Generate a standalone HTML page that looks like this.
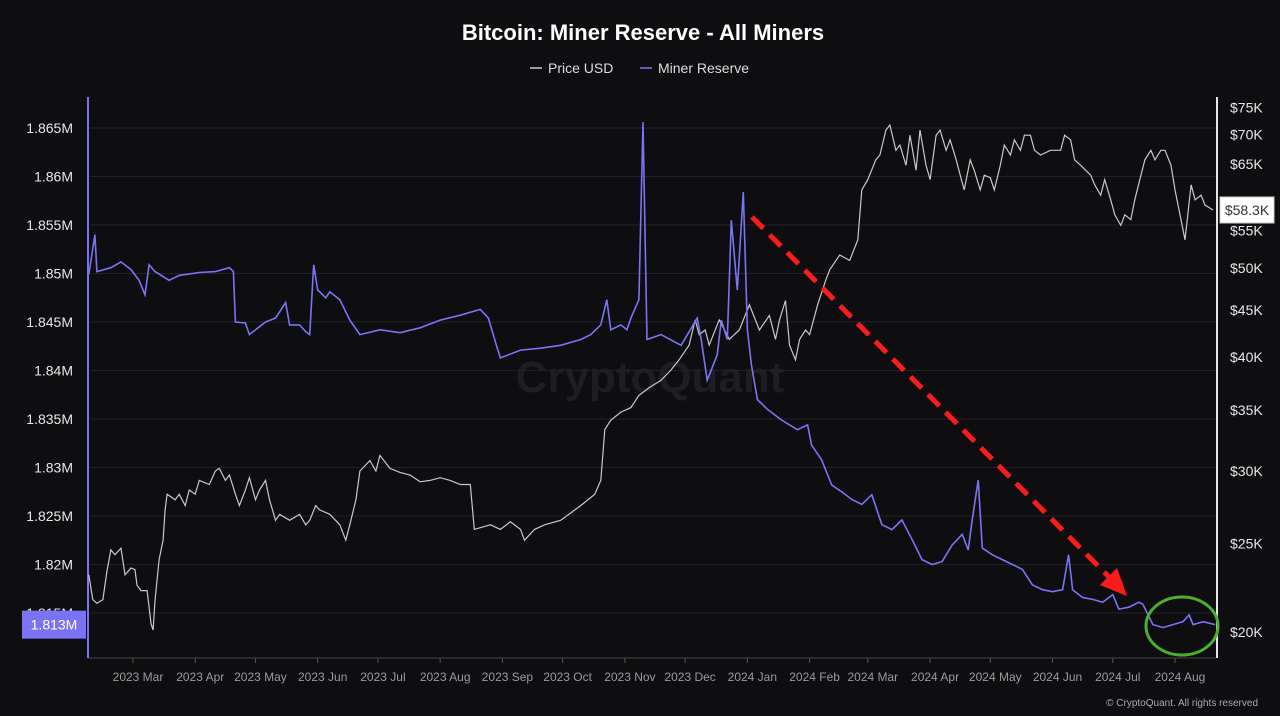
<!DOCTYPE html>
<html><head><meta charset="utf-8"><style>
body{margin:0;background:#0e0e11;width:1280px;height:716px;overflow:hidden;font-family:"Liberation Sans",sans-serif}
svg{display:block}
</style></head><body>
<svg id="c" width="1280" height="716">
<rect width="1280" height="716" fill="#0e0e11"/>
<text x="643" y="40" text-anchor="middle" fill="#fff" font-size="22" font-weight="bold">Bitcoin: Miner Reserve - All Miners</text>
<g>
<g><line x1="530" y1="68" x2="542" y2="68" stroke="#ccc" stroke-width="1.5"/><text x="548" y="73" fill="#ddd" font-size="14">Price USD</text></g>
<g><line x1="640" y1="68" x2="652" y2="68" stroke="#7b73f5" stroke-width="1.5"/><text x="658" y="73" fill="#ddd" font-size="14">Miner Reserve</text></g>
</g>
<text x="650" y="392" text-anchor="middle" fill="#1d1d22" font-size="44" font-weight="bold">CryptoQuant</text>
<g id="grid"></g><g id="axes"></g><g id="series"></g>
<g>
<line x1="752" y1="217" x2="1110" y2="578" stroke="#ff1a1a" stroke-width="5" stroke-dasharray="16,9"/>
<polygon points="1127,596 1100,585 1117,568" fill="#ff1a1a"/>
</g>
<ellipse cx="1182" cy="626" rx="36" ry="29" fill="none" stroke="#4caf2a" stroke-width="3"/>
<text x="1258" y="706" text-anchor="end" fill="#aaa" font-size="10">© CryptoQuant. All rights reserved</text>
</svg>
<script>
const leftTicks=[1.815,1.82,1.825,1.83,1.835,1.84,1.845,1.85,1.855,1.86,1.865];
const leftTickLabels=["1.815M","1.82M","1.825M","1.83M","1.835M","1.84M","1.845M","1.85M","1.855M","1.86M","1.865M"];
const rightTicks=[20,25,30,35,40,45,50,55,60,65,70,75];
const rightTickLabels=["$20K","$25K","$30K","$35K","$40K","$45K","$50K","$55K","","$65K","$70K","$75K"];
const monthDays=[28,59,89,120,150,181,212,242,273,303,334,365,394,425,455,486,516,547];
const monthLabels=["2023 Mar","2023 Apr","2023 May","2023 Jun","2023 Jul","2023 Aug","2023 Sep","2023 Oct","2023 Nov","2023 Dec","2024 Jan","2024 Feb","2024 Mar","2024 Apr","2024 May","2024 Jun","2024 Jul","2024 Aug"];
const reserveDays=[6,9,10,17,22,27,31,34,36,39,46,51,61,69,76,78,79,84,86,94,99,104,106,111,114,116,118,120,124,126,131,136,141,151,161,171,181,191,201,205,209,211,221,231,241,251,256,261,264,266,271,274,276,280,282,284,291,301,309,311,314,319,321,324,326,329,331,332,334,336,339,344,351,359,364,366,371,376,381,386,391,396,401,406,411,416,421,426,431,436,441,444,446,449,451,456,461,466,471,476,481,486,491,494,496,501,506,511,516,519,524,529,531,536,541,546,551,554,556,561,567];
const reserveK=[1849.9,1854.0,1850.2,1850.6,1851.2,1850.4,1849.3,1847.8,1850.9,1850.2,1849.3,1849.8,1850.1,1850.2,1850.6,1850.2,1845.0,1844.9,1843.7,1845.0,1845.4,1847.0,1844.7,1844.7,1844.0,1843.7,1850.9,1848.3,1847.5,1848.1,1847.3,1845.2,1843.7,1844.2,1843.9,1844.4,1845.2,1845.7,1846.3,1845.4,1842.6,1841.3,1842.1,1842.3,1842.6,1843.2,1843.7,1844.7,1847.3,1844.2,1844.7,1844.2,1845.4,1847.3,1865.6,1843.2,1843.7,1842.6,1845.4,1843.2,1839.0,1841.6,1845.2,1843.2,1855.5,1848.3,1855.0,1858.4,1844.2,1840.6,1837.0,1836.0,1834.9,1833.9,1834.4,1832.3,1830.8,1828.2,1827.5,1826.7,1826.2,1827.2,1824.1,1823.6,1824.6,1822.6,1820.5,1820.0,1820.3,1822.0,1823.1,1821.5,1824.6,1828.7,1821.7,1821.0,1820.5,1820.0,1819.5,1817.9,1817.4,1817.2,1817.4,1821.0,1817.4,1816.6,1816.4,1816.1,1816.9,1815.4,1815.6,1816.1,1815.9,1813.8,1813.5,1813.8,1814.1,1814.8,1813.8,1814.1,1813.8];
const priceDays=[6,8,10,13,15,17,19,22,24,27,29,30,32,35,37,38,39,41,43,44,45,49,51,54,56,59,61,66,69,71,74,76,79,81,84,86,89,91,94,96,99,101,106,111,114,116,119,121,126,131,134,136,139,141,146,149,151,156,161,166,171,176,181,186,191,196,198,206,211,216,221,223,228,233,241,251,258,261,263,266,271,276,280,285,291,296,300,305,308,310,313,315,320,325,330,335,340,345,348,350,353,355,358,360,363,365,369,373,375,380,385,389,391,394,398,400,403,405,408,410,413,415,418,420,423,425,428,430,433,435,438,440,442,445,447,450,452,455,457,460,462,465,467,470,472,475,477,480,485,490,492,495,497,500,505,507,510,512,515,517,520,522,525,527,530,532,535,537,540,542,545,547,550,552,555,557,560,562,566];
const priceK=[23.1,21.7,21.5,21.7,23.3,24.6,24.3,24.7,23.1,23.5,23.4,22.5,22.2,22.2,20.4,20.1,21.7,24.0,25.2,27.2,28.3,27.9,28.3,27.5,28.6,28.3,29.3,29.0,30.0,30.2,29.3,29.7,28.3,27.5,28.6,29.5,27.9,28.6,29.3,27.9,26.5,26.9,26.5,26.9,26.2,26.5,27.5,27.2,26.9,26.2,25.2,26.2,27.9,30.0,30.8,30.0,31.2,30.2,29.9,29.7,29.2,29.3,29.5,29.3,29.0,29.0,25.9,26.2,25.9,26.4,25.9,25.2,25.9,26.2,26.5,27.5,28.3,29.3,33.3,34.1,34.8,35.2,36.3,37.0,37.7,38.7,39.7,41.2,43.9,42.3,42.8,41.2,43.9,41.8,42.8,45.6,42.8,44.4,41.8,43.9,46.1,41.2,39.7,41.8,42.8,42.3,45.6,48.5,49.8,51.7,51.0,53.7,60.9,62.5,65.7,66.5,70.8,71.7,67.3,68.2,64.8,69.9,64.0,70.8,64.8,62.5,69.9,70.8,67.3,69.1,65.7,63.2,60.9,65.7,64.0,60.9,63.2,62.8,60.9,64.8,68.2,66.5,69.1,67.3,69.9,69.9,67.3,66.5,67.3,67.3,69.9,69.1,65.7,64.8,63.2,61.7,60.1,62.5,59.4,57.2,55.7,57.2,56.5,59.4,63.2,65.7,67.3,65.7,67.3,67.3,64.8,60.9,56.5,53.7,61.7,59.4,60.1,58.6,57.9];
const lastPriceLabel="$58.3K", lastReserveLabel="1.813M";

const NS="http://www.w3.org/2000/svg";
const X0=88,X1=1216,Y0=97,Y1=658;
const xS=d=>133+(d-28)*2.0077;
const yL=v=>128+(1.865-v)/0.005*48.5;
const yR=p=>632-Math.log(p/20)*397;
function mk(tag,attrs,parent,txt){const e=document.createElementNS(NS,tag);for(const k in attrs)e.setAttribute(k,attrs[k]);if(txt!==undefined)e.textContent=txt;parent.appendChild(e);return e;}
const grid=document.getElementById('grid'),axes=document.getElementById('axes'),ser=document.getElementById('series');
leftTicks.forEach((v,i)=>{
  const y=yL(v);
  const g=mk('line',{x1:X0+2,x2:X1,y1:y,y2:y,stroke:'#222226','stroke-width':1},grid);
  
  
  const t=mk('text',{x:73,y:y+5,'text-anchor':'end',fill:'#e6e6e6','font-size':14},axes,leftTickLabels[i]);
  
  
});
rightTicks.forEach((v,i)=>{
  const t=mk('text',{x:1230,y:yR(v)+5,fill:'#e6e6e6','font-size':14},axes,rightTickLabels[i]);
  
  
});
monthDays.forEach((d,i)=>{
  const x=xS(d);
  const tk=mk('line',{x1:x,x2:x,y1:Y1,y2:Y1+5,stroke:'#555'},axes);
  
  
  const t=mk('text',{x:x+5,y:681,'text-anchor':'middle',fill:'#9a9a9a','font-size':12},axes,monthLabels[i]);
  
  
});
const bl=mk('line',{x1:X0,x2:X1,y1:Y1,y2:Y1,stroke:'#444'},axes);


const la=mk('line',{x1:X0,x2:X0,y1:Y0,y2:Y1,stroke:'#7b73f5','stroke-width':2},axes);


const ra=mk('line',{x1:1217,x2:1217,y1:Y0,y2:Y1,stroke:'#e6e6e6','stroke-width':2},axes);


const pp=mk('polyline',{points:priceDays.map((d,i)=>xS(d).toFixed(1)+','+yR(priceK[i]).toFixed(1)).join(' '),fill:'none',stroke:'#c8c8c8','stroke-width':1.2},ser);


const rp=mk('polyline',{points:reserveDays.map((d,i)=>xS(d).toFixed(1)+','+yL(reserveK[i]/1000).toFixed(1)).join(' '),fill:'none',stroke:'#7b73f5','stroke-width':1.6},ser);


const ly=yL(reserveK[reserveK.length-1]/1000);
const lb=mk('rect',{x:22,y:ly-14,width:64,height:28,fill:'#7b73f5'},axes);


const lt=mk('text',{x:54,y:ly+5,'text-anchor':'middle',fill:'#fff','font-size':14},axes,lastReserveLabel);


const py=yR(priceK[priceK.length-1]);
const pb=mk('rect',{x:1220,y:py-13,width:54,height:26,fill:'#fff',stroke:'#ccc'},axes);


const pt=mk('text',{x:1247,y:py+5,'text-anchor':'middle',fill:'#333','font-size':14},axes,lastPriceLabel);


</script>
</body></html>
